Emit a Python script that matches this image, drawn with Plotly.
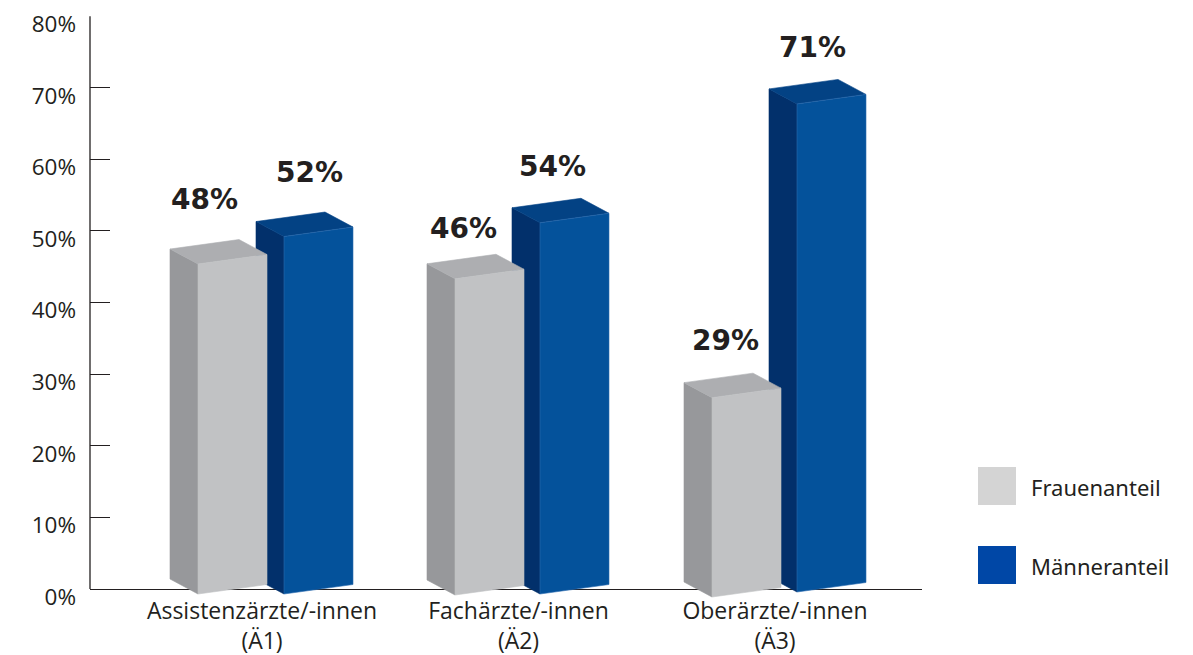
import plotly.graph_objects as go

# Physician groups and the share of women / men in each
categories = ["Assistenzärzte/-innen", "Fachärzte/-innen", "Oberärzte/-innen"]
category_codes = ["(Ä1)", "(Ä2)", "(Ä3)"]
frauen = [48, 46, 29]
maenner = [52, 54, 71]
y_ticks = [0, 10, 20, 30, 40, 50, 60, 70, 80]
y_tick_labels = ["0%", "10%", "20%", "30%", "40%", "50%", "60%", "70%", "80%"]
legend_names = ["Frauenanteil", "Männeranteil"]

WIDTH, HEIGHT = 1193, 655
PLOT_L, PLOT_R, PLOT_T, PLOT_B = 90, 922, 16, 598
ZERO_PX = 589
PX_PER_PCT = (ZERO_PX - PLOT_T) / 80
PX_PER_CAT = 256.5
CAT0_PX = 262

INK = "#231f20"
TEXT_FONT = "Open Sans"


def dx(px):
    return px / PX_PER_CAT


def dy(px):
    return px / PX_PER_PCT


x_range = [dx(PLOT_L - CAT0_PX), dx(PLOT_R - CAT0_PX)]
y_range = [-dy(PLOT_B - ZERO_PX), 80.02]

# Oblique projection of one box: the front face is foreshortened against the axis scale
DEPTH_SCALE = 0.96
BAR_W = 69
SIDE_DX, SIDE_DY = -28, 15
SLOPE = 9.5


def box_faces(cat, value, x_off, ground_px):
    """Return (front, side, top) polygons for a box standing on the floor."""
    xl = cat + dx(x_off)
    xr = xl + dx(BAR_W)
    xb = xl + dx(SIDE_DX)
    bot = -dy(ground_px)
    top = bot + value * DEPTH_SCALE
    rise = dy(SLOPE)
    sd = dy(SIDE_DY)
    front = ([xl, xr, xr, xl, xl], [bot, bot + rise, top + rise, top, bot])
    side = ([xb, xl, xl, xb, xb], [bot + sd, bot, top, top + sd, bot + sd])
    top_face = ([xl, xr, xr + dx(SIDE_DX), xb, xl],
                [top, top + rise, top + rise + sd, top + sd, top])
    return front, side, top_face


def add_box(fig, faces, colors, edge):
    front, side, top = faces
    for (xs, ys), col, line in zip((side, top, front), colors, (colors[0], colors[1], edge)):
        fig.add_trace(go.Scatter(
            x=xs, y=ys, mode="lines", fill="toself", fillcolor=col,
            line=dict(color=line, width=0.6),
            hoverinfo="skip", showlegend=False,
        ))


fig = go.Figure()

GREY = ("#97989b", "#adaeb1", "#c1c2c4")
BLUE = ("#02306b", "#034284", "#04529b")

# Men's boxes go first: the women's box sits in front of each one
blue_offsets = [22, 21.5, 22]
grey_offsets = [-64, -63.5, -63]
blue_ground = [5, 5, 3]
grey_ground = [5, 6, 8]
for i, v in enumerate(maenner):
    add_box(fig, box_faces(i, v, blue_offsets[i], blue_ground[i]), BLUE, "#2c6cb0")
for i, v in enumerate(frauen):
    add_box(fig, box_faces(i, v, grey_offsets[i], grey_ground[i]), GREY, "#c1c2c4")

shapes = [
    # vertical axis stops at the zero line
    dict(type="line", xref="x domain", yref="y", x0=0, x1=0, y0=0, y1=80,
         line=dict(color=INK, width=1.3), layer="above"),
]


def paper_x(px):
    return (px - PLOT_L) / (PLOT_R - PLOT_L)


def paper_y(px):
    return (PLOT_B - px) / (PLOT_B - PLOT_T)


annotations = []

# Value labels above each box
label_shift = {
    "f": [(-58, 46), (-55.5, 31.5), (-50, 41)],
    "m": [(47, 44.6), (33.5, 36), (37, 33.5)],
}
for key, series in (("f", frauen), ("m", maenner)):
    for i, v in enumerate(series):
        sx, sy = label_shift[key][i]
        annotations.append(dict(
            x=i, y=v, xref="x", yref="y", text=f"<b>{v}%</b>", showarrow=False,
            xshift=sx, yshift=sy, xanchor="center", yanchor="middle",
            font=dict(family="DejaVu Sans", size=28, color=INK),
        ))

# Legend drawn as large colour squares beside the plot
for name, col, top_px in zip(legend_names, ("#d4d4d4", "#0047a6"), (467, 546)):
    shapes.append(dict(
        type="rect", xref="paper", yref="paper",
        x0=paper_x(978), x1=paper_x(1016), y0=paper_y(top_px + 38), y1=paper_y(top_px),
        fillcolor=col, line=dict(width=0),
    ))
    annotations.append(dict(
        x=paper_x(1028.5), y=paper_y(top_px + 20), xref="paper", yref="paper", text=name,
        showarrow=False, xanchor="left", yanchor="middle",
        font=dict(family="Noto Sans", size=22, color=INK),
    ))

fig.update_layout(
    width=WIDTH, height=HEIGHT,
    margin=dict(l=PLOT_L, r=WIDTH - PLOT_R, t=PLOT_T, b=HEIGHT - PLOT_B, autoexpand=False),
    paper_bgcolor="white", plot_bgcolor="rgba(0,0,0,0)",
    showlegend=False,
    shapes=shapes, annotations=annotations,
    font=dict(family=TEXT_FONT, color=INK),
    xaxis=dict(
        range=x_range, showgrid=False, showline=False,
        zeroline=False, tickmode="array", tickvals=[0, 1, 2],
        ticktext=[f"{name}<br>{code}" for name, code in zip(categories, category_codes)],
        ticks="", ticklabelstandoff=-3,
        tickfont=dict(family=TEXT_FONT, size=23, color=INK),
    ),
    yaxis=dict(
        range=y_range, showgrid=False, showline=False, zeroline=True,
        zerolinecolor=INK, zerolinewidth=1.3,
        tickmode="array", tickvals=y_ticks, ticktext=y_tick_labels,
        ticks="inside", ticklen=20, tickcolor=INK, tickwidth=1.3,
        ticklabelshift=8, ticklabelstandoff=13,
        tickfont=dict(family=TEXT_FONT, size=22.5, color=INK),
    ),
)

fig.write_html("out.html", config={"displayModeBar": False})
